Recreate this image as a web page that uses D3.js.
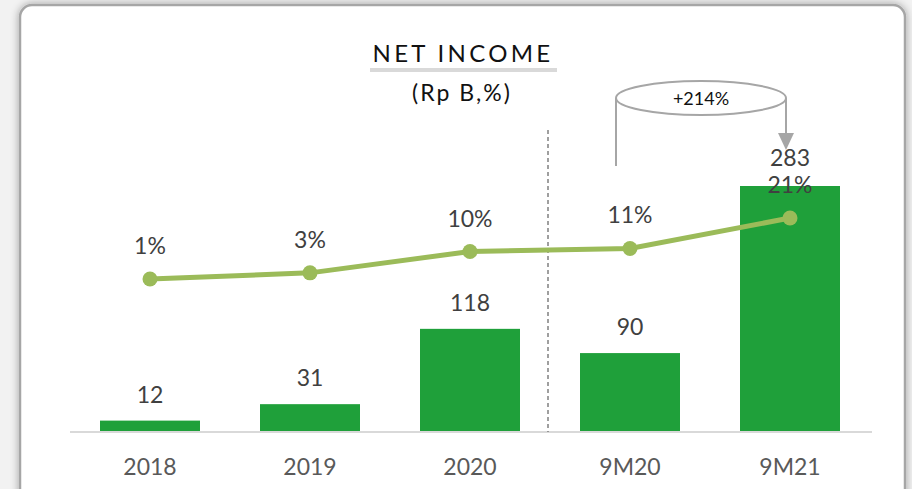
<!DOCTYPE html>
<html><head><meta charset="utf-8">
<script src="https://cdn.jsdelivr.net/npm/d3@7"></script>
<style>
html,body{margin:0;padding:0;background:#fff;}
svg{display:block;}
</style></head>
<body>
<svg id="chart" width="912" height="489"></svg>
<script>
const categories = ["2018", "2019", "2020", "9M20", "9M21"];
const netIncome = [12, 31, 118, 90, 283];
const netMargin = [1, 3, 10, 11, 21];
const marginLabels = ["1%", "3%", "10%", "11%", "21%"];
const growthLabel = "+214%";

const svg = d3.select("#chart");
const font = "Lato, 'Open Sans', sans-serif";

// background + card
const defs = svg.append("defs");
const f = defs.append("filter").attr("id","sh").attr("x","-5%").attr("y","-5%").attr("width","110%").attr("height","110%");
f.append("feGaussianBlur").attr("in","SourceAlpha").attr("stdDeviation",4).attr("result","b");
f.append("feComponentTransfer").attr("in","b").attr("result","o2").append("feFuncA").attr("type","linear").attr("slope",0.35);
const fm = f.append("feMerge"); fm.append("feMergeNode").attr("in","o2"); fm.append("feMergeNode").attr("in","SourceGraphic");

svg.append("rect").attr("width",912).attr("height",489).attr("fill","#f2f2f2");
svg.append("rect").attr("x",20).attr("y",5).attr("width",885).attr("height",520).attr("rx",12)
  .attr("fill","#ffffff").attr("stroke","#a6a6a6").attr("stroke-width",2.5).attr("filter","url(#sh)");

// scales
const x = d3.scaleBand().domain(categories).range([70, 870]).paddingInner(0.375).paddingOuter(0.1875);
const y = d3.scaleLinear().domain([0, 283]).range([431, 186]);
const y2 = d3.scaleLinear().domain([0, 21]).range([282, 218]);

// title
svg.append("text").attr("x",463).attr("y",62).attr("text-anchor","middle")
  .attr("font-family",font).attr("font-size",24).attr("letter-spacing",3.3).attr("fill","#111").text("NET INCOME");
svg.append("rect").attr("x",370).attr("y",68).attr("width",187).attr("height",4).attr("fill","#d9d9d9");
svg.append("text").attr("x",462).attr("y",101).attr("text-anchor","middle")
  .attr("font-family",font).attr("font-size",23).attr("letter-spacing",2).attr("fill","#111").text("(Rp B,%)");

// axis line
const xAxis = svg.append("g").attr("transform","translate(0,432)")
  .call(d3.axisBottom(x).tickSize(0).tickPadding(27));
xAxis.select(".domain").attr("stroke","#d9d9d9").attr("stroke-width",2).attr("d","M70,0H872");
xAxis.selectAll("text").attr("font-family",font).attr("font-size",23).attr("fill","#595959");

// bars
svg.append("g").selectAll("rect").data(categories).join("rect")
  .attr("x",d=>x(d)).attr("width",x.bandwidth())
  .attr("y",(d,i)=>y(netIncome[i])).attr("height",(d,i)=>y(0)-y(netIncome[i]))
  .attr("fill","#1fa03a");

// bar labels
svg.append("g").selectAll("text").data(categories).join("text")
  .attr("x",d=>x(d)+x.bandwidth()/2).attr("y",(d,i)=>y(netIncome[i])-(i===4?20:18))
  .attr("text-anchor","middle").attr("font-family",font).attr("font-size",23).attr("fill","#404040")
  .text((d,i)=>netIncome[i]);

// divider
svg.append("line").attr("x1",548).attr("x2",548).attr("y1",130).attr("y2",432)
  .attr("stroke","#808080").attr("stroke-width",1.5).attr("stroke-dasharray","4,3");

// line
const line = d3.line().x((d,i)=>x(categories[i])+x.bandwidth()/2).y(d=>y2(d));
svg.append("path").datum(netMargin).attr("d",line).attr("fill","none")
  .attr("stroke","#9bbb59").attr("stroke-width",5).attr("stroke-linecap","round");
svg.append("g").selectAll("circle").data(netMargin).join("circle")
  .attr("cx",(d,i)=>x(categories[i])+x.bandwidth()/2).attr("cy",d=>y2(d)).attr("r",7.5)
  .attr("fill","#9bbb59");
svg.append("g").selectAll("text").data(netMargin).join("text")
  .attr("x",(d,i)=>x(categories[i])+x.bandwidth()/2).attr("y",d=>y2(d)-25)
  .attr("text-anchor","middle").attr("font-family",font).attr("font-size",23).attr("fill","#404040")
  .text((d,i)=>marginLabels[i]);

// growth annotation (cylinder)
const cx0 = x("9M20")+x.bandwidth()/2 - 14, cx1 = x("9M21")+x.bandwidth()/2 - 4;
const ecx = (cx0+cx1)/2, ecy = 98, erx = (cx1-cx0)/2, ery = 17;
const ann = svg.append("g").attr("stroke","#a6a6a6").attr("stroke-width",2).attr("fill","none");
ann.append("line").attr("x1",cx0).attr("x2",cx0).attr("y1",ecy).attr("y2",166);
ann.append("line").attr("x1",cx1).attr("x2",cx1).attr("y1",ecy).attr("y2",134);
ann.append("ellipse").attr("cx",ecx).attr("cy",ecy).attr("rx",erx).attr("ry",ery).attr("fill","#fff");
svg.append("path").attr("d",`M${cx1-8},133 L${cx1+8},133 L${cx1},150 Z`).attr("fill","#a6a6a6");
svg.append("text").attr("x",ecx).attr("y",ecy+7).attr("text-anchor","middle")
  .attr("font-family",font).attr("font-size",18).attr("fill","#111").text(growthLabel);
</script>
</body></html>
